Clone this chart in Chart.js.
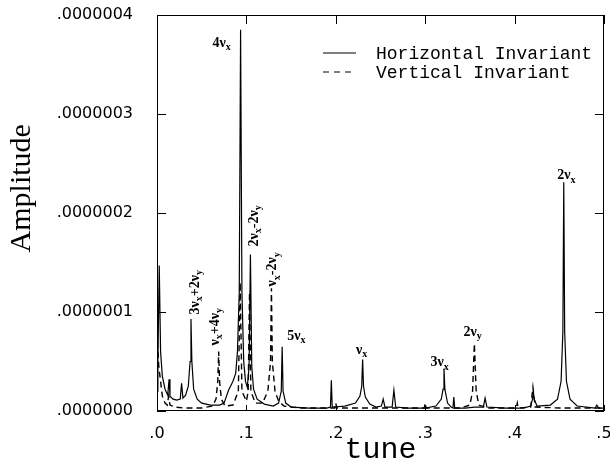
<!DOCTYPE html>
<html>
<head>
<meta charset="utf-8">
<script src="https://cdn.jsdelivr.net/npm/chart.js@4/dist/chart.umd.min.js"></script>
<style>
  html, body { margin: 0; padding: 0; background: #fff; }
  #wrap { width: 610px; height: 462px; }
</style>
</head>
<body>
<div id="wrap"><canvas id="spec" width="610" height="462"></canvas></div>
<script>
// horizontal invariant (solid) - tune / amplitude
const hTune = [0.000, 0.001, 0.0025, 0.004, 0.006, 0.009, 0.012, 0.0135, 0.0145, 0.018, 0.022, 0.026, 0.0275, 0.029,
  0.032, 0.035, 0.037, 0.038, 0.039, 0.041, 0.045, 0.050, 0.060, 0.070, 0.075, 0.080, 0.085, 0.088, 0.090, 0.092,
  0.0935, 0.095, 0.097, 0.099, 0.101, 0.103, 0.1045, 0.106, 0.108, 0.112, 0.120, 0.130, 0.136, 0.139, 0.140, 0.141,
  0.144, 0.150, 0.170, 0.190, 0.194, 0.195, 0.196, 0.210, 0.222, 0.227, 0.229, 0.230, 0.231, 0.233, 0.238, 0.245,
  0.251, 0.253, 0.255, 0.263, 0.265, 0.267, 0.280, 0.300, 0.312, 0.318, 0.320, 0.321, 0.322, 0.325, 0.329, 0.331,
  0.332, 0.333, 0.345, 0.355, 0.365, 0.367, 0.369, 0.390, 0.410, 0.418, 0.420, 0.421, 0.422, 0.425, 0.440, 0.448,
  0.452, 0.454, 0.455, 0.456, 0.458, 0.462, 0.470, 0.490, 0.492, 0.494, 0.500];
const hAmp = [0.2e-7, 0.5e-7, 1.47e-7, 0.6e-7, 0.35e-7, 0.22e-7, 0.16e-7, 0.32e-7, 0.15e-7, 0.12e-7, 0.11e-7, 0.12e-7, 0.28e-7, 0.13e-7,
  0.16e-7, 0.25e-7, 0.5e-7, 0.93e-7, 0.5e-7, 0.22e-7, 0.12e-7, 0.08e-7, 0.06e-7, 0.06e-7, 0.08e-7, 0.21e-7, 0.3e-7, 0.38e-7, 0.6e-7, 1.2e-7,
  3.85e-7, 1.2e-7, 0.5e-7, 0.3e-7, 0.24e-7, 0.45e-7, 1.58e-7, 0.45e-7, 0.22e-7, 0.12e-7, 0.07e-7, 0.05e-7, 0.08e-7, 0.2e-7, 0.65e-7, 0.2e-7,
  0.08e-7, 0.04e-7, 0.03e-7, 0.03e-7, 0.04e-7, 0.31e-7, 0.04e-7, 0.05e-7, 0.08e-7, 0.15e-7, 0.25e-7, 0.52e-7, 0.25e-7, 0.14e-7, 0.07e-7, 0.04e-7,
  0.05e-7, 0.12e-7, 0.04e-7, 0.04e-7, 0.21e-7, 0.04e-7, 0.03e-7, 0.03e-7, 0.05e-7, 0.12e-7, 0.22e-7, 0.43e-7, 0.22e-7, 0.08e-7, 0.04e-7, 0.03e-7,
  0.14e-7, 0.03e-7, 0.03e-7, 0.04e-7, 0.04e-7, 0.13e-7, 0.04e-7, 0.03e-7, 0.03e-7, 0.05e-7, 0.12e-7, 0.19e-7, 0.12e-7, 0.05e-7, 0.06e-7, 0.12e-7,
  0.3e-7, 0.8e-7, 2.31e-7, 0.8e-7, 0.3e-7, 0.12e-7, 0.05e-7, 0.03e-7, 0.06e-7, 0.03e-7, 0.03e-7];

// vertical invariant (dashed)
const vTune = [0.000, 0.002, 0.004, 0.006, 0.009, 0.0115, 0.013, 0.0145, 0.020, 0.030, 0.050, 0.062, 0.066, 0.068,
  0.069, 0.070, 0.072, 0.076, 0.085, 0.091, 0.093, 0.095, 0.100, 0.102, 0.1035, 0.105, 0.110, 0.118, 0.124, 0.127,
  0.128, 0.129, 0.132, 0.136, 0.142, 0.160, 0.199, 0.200, 0.201, 0.299, 0.300, 0.301, 0.340, 0.350, 0.353, 0.355,
  0.357, 0.360, 0.370, 0.402, 0.403, 0.404, 0.418, 0.4205, 0.423, 0.450, 0.500];
const vAmp = [0.8e-7, 0.45e-7, 0.3e-7, 0.15e-7, 0.08e-7, 0.06e-7, 0.15e-7, 0.06e-7, 0.04e-7, 0.03e-7, 0.03e-7, 0.05e-7, 0.12e-7, 0.3e-7,
  0.6e-7, 0.3e-7, 0.12e-7, 0.05e-7, 0.06e-7, 0.2e-7, 1.3e-7, 0.2e-7, 0.1e-7, 0.2e-7, 1.2e-7, 0.2e-7, 0.08e-7, 0.08e-7, 0.2e-7, 0.5e-7,
  1.24e-7, 0.5e-7, 0.2e-7, 0.1e-7, 0.05e-7, 0.03e-7, 0.03e-7, 0.08e-7, 0.03e-7, 0.03e-7, 0.08e-7, 0.03e-7, 0.03e-7, 0.06e-7, 0.2e-7, 0.68e-7,
  0.2e-7, 0.06e-7, 0.03e-7, 0.03e-7, 0.08e-7, 0.03e-7, 0.04e-7, 0.24e-7, 0.04e-7, 0.03e-7, 0.03e-7];

const seriesNames = ['Horizontal Invariant', 'Vertical Invariant'];
const xTicks = [0, 0.1, 0.2, 0.3, 0.4, 0.5];
const yTicks = [0, 1e-7, 2e-7, 3e-7, 4e-7];
const yTitle = 'Amplitude';
const yTitleAt = 2.25e-7; // amplitude level where the axis title is centred

// peak labels: "_" puts the next char as subscript
const labelText = ['4ν_x', '3ν_x+2ν_y', 'ν_x+4ν_y', '2ν_x-2ν_y', 'ν_x-2ν_y', '5ν_x', 'ν_x', '3ν_x', '2ν_y', '2ν_x'];
const labelTune = [0.0724, 0.0423, 0.0646, 0.108, 0.129, 0.156, 0.229, 0.316, 0.353, 0.458];
const labelAmp = [3.68e-7, 1.2e-7, 0.85e-7, 1.87e-7, 1.43e-7, 0.72e-7, 0.58e-7, 0.45e-7, 0.76e-7, 2.34e-7];
const labelRotated = [false, true, true, true, true, false, false, false, false, false];

const toPts = (xs, ys) => xs.map((x, i) => ({ x: x, y: ys[i] }));

function drawSub(ctx, txt, size) {
  const parts = [];
  for (let i = 0; i < txt.length; i++) {
    if (txt[i] === '_') { parts.push({ s: txt[i + 1], sub: true }); i++; }
    else parts.push({ s: txt[i], sub: false });
  }
  const big = 'bold ' + size + 'px "Liberation Serif"';
  const small = 'bold ' + Math.round(size * 0.7) + 'px "Liberation Serif"';
  let w = 0;
  parts.forEach(p => { ctx.font = p.sub ? small : big; p.w = ctx.measureText(p.s).width; w += p.w; });
  let x = -w / 2;
  parts.forEach(p => {
    ctx.font = p.sub ? small : big;
    ctx.fillText(p.s, x, p.sub ? size * 0.25 : 0);
    x += p.w;
  });
}

const noPad = s => { s.paddingTop = 0; s.paddingBottom = 0; s.paddingLeft = 0; s.paddingRight = 0; };

const extras = {
  id: 'extras',
  afterDraw(chart) {
    const { ctx, chartArea: a, scales } = chart;
    const xs = scales.x, ys = scales.y;
    ctx.save();
    // frame
    ctx.strokeStyle = '#000';
    ctx.lineWidth = 1;
    ctx.strokeRect(a.left + 0.5, a.top + 0.5, a.right - a.left - 1, a.bottom - a.top - 1);
    // inward ticks
    ctx.beginPath();
    yTicks.forEach(v => {
      const y = Math.round(ys.getPixelForValue(v)) + 0.5;
      ctx.moveTo(a.left, y); ctx.lineTo(a.left + 9, y);
      ctx.moveTo(a.right, y); ctx.lineTo(a.right - 9, y);
    });
    xTicks.forEach(v => {
      const x = Math.round(xs.getPixelForValue(v)) + 0.5;
      ctx.moveTo(x, a.top); ctx.lineTo(x, a.top + 9);
      ctx.moveTo(x, a.bottom); ctx.lineTo(x, a.bottom - 6);
    });
    ctx.stroke();

    // y axis title
    ctx.fillStyle = '#000';
    ctx.save();
    ctx.translate(22, ys.getPixelForValue(yTitleAt));
    ctx.rotate(-Math.PI / 2);
    ctx.font = '30px "Liberation Serif"';
    ctx.textAlign = 'center';
    ctx.textBaseline = 'middle';
    ctx.fillText(yTitle, 0, 0);
    ctx.restore();

    // legend
    ctx.font = '18px "Liberation Mono"';
    ctx.textBaseline = 'middle';
    ctx.textAlign = 'left';
    seriesNames.forEach((name, i) => {
      const y = 53 + i * 19;
      ctx.beginPath();
      ctx.lineWidth = 1.2;
      ctx.setLineDash(i === 0 ? [] : [6, 5]);
      ctx.moveTo(323, y); ctx.lineTo(356, y);
      ctx.stroke();
      ctx.setLineDash([]);
      ctx.fillText(name, 376, y + 1);
    });

    // peak labels
    ctx.textBaseline = 'alphabetic';
    labelText.forEach((t, i) => {
      const px = xs.getPixelForValue(labelTune[i]);
      const py = ys.getPixelForValue(labelAmp[i]);
      ctx.save();
      ctx.translate(px, py);
      if (labelRotated[i]) { ctx.rotate(-Math.PI / 2); ctx.translate(0, 4); }
      drawSub(ctx, t, 14);
      ctx.restore();
    });
    ctx.restore();
  }
};

new Chart(document.getElementById('spec'), {
  type: 'line',
  data: {
    datasets: [
      { label: seriesNames[0], data: toPts(hTune, hAmp), borderColor: '#000', borderWidth: 1.2, pointRadius: 0, tension: 0, fill: false },
      { label: seriesNames[1], data: toPts(vTune, vAmp), borderColor: '#000', borderWidth: 1.4, borderDash: [6, 4], pointRadius: 0, tension: 0, fill: false }
    ]
  },
  options: {
    responsive: false,
    animation: false,
    devicePixelRatio: 1,
    layout: { padding: { top: 15, right: 6, left: 0, bottom: 0 } },
    plugins: { legend: { display: false }, tooltip: { enabled: false } },
    scales: {
      x: {
        type: 'linear', min: 0, max: 0.5,
        afterFit: s => { s.height = 51; noPad(s); },
        afterBuildTicks: s => { s.ticks = xTicks.map(v => ({ value: v })); },
        grid: { display: false, drawTicks: false },
        border: { display: false },
        ticks: {
          padding: 13, color: '#000', font: { family: 'DejaVu Sans', size: 16 },
          callback: v => v.toFixed(1).replace(/^0/, '')
        },
        title: { display: true, text: 'tune', color: '#000', font: { family: 'Liberation Mono', size: 30, lineHeight: 0.8 }, padding: 0 }
      },
      y: {
        min: 0, max: 4e-7,
        afterFit: s => { s.width = 157; noPad(s); },
        afterBuildTicks: s => { s.ticks = yTicks.map(v => ({ value: v })); },
        grid: { display: false, drawTicks: false },
        border: { display: false },
        ticks: {
          padding: 24, color: '#000', font: { family: 'DejaVu Sans', size: 16 },
          callback: v => v.toFixed(7).replace(/^0/, '')
        }
      }
    }
  },
  plugins: [extras]
});
</script>
</body>
</html>
